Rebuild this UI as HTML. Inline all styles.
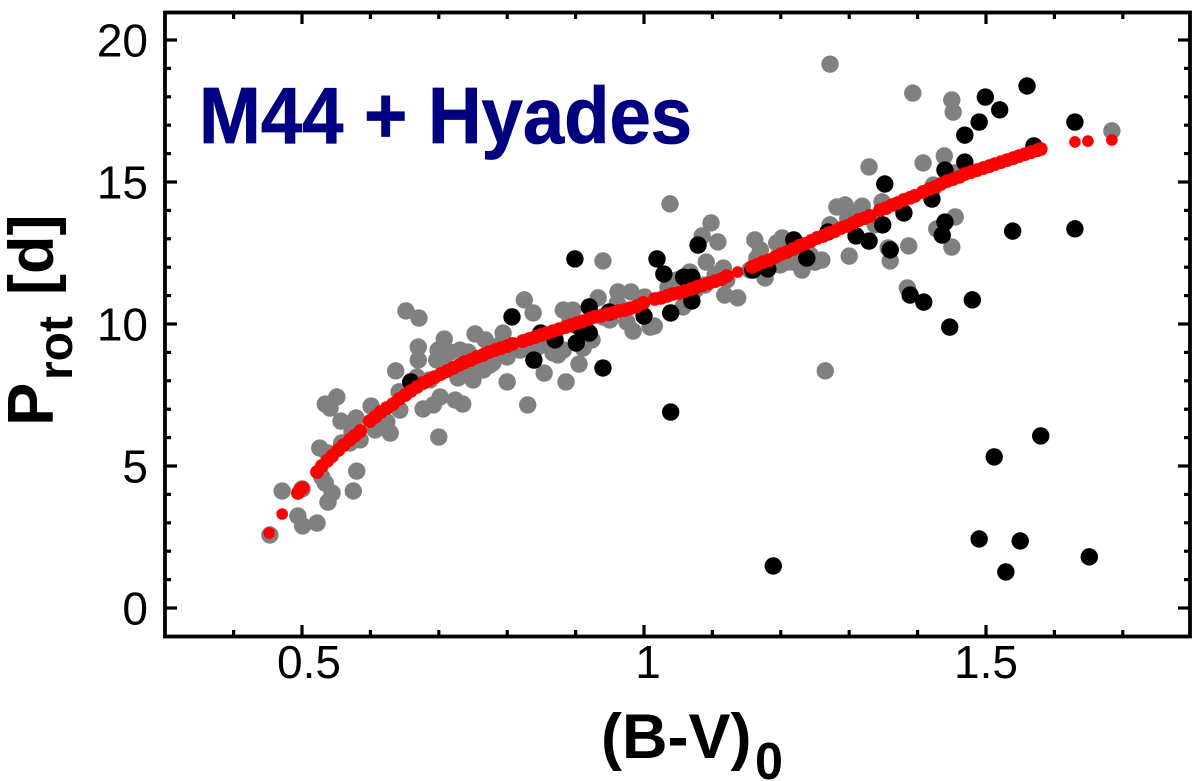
<!DOCTYPE html>
<html lang="en">
<head>
<meta charset="utf-8">
<title>M44 + Hyades rotation periods</title>
<style>
html,body{margin:0;padding:0;background:#fff;width:1200px;height:781px;overflow:hidden}
svg{display:block}
text{font-family:"Liberation Sans",Arial,Helvetica,sans-serif;fill:#000}
</style>
</head>
<body>
<svg id="chart" xmlns="http://www.w3.org/2000/svg" width="1200" height="781" viewBox="0 0 1200 781">
  <rect x="0" y="0" width="1200" height="781" fill="#fff"/>
  <g id="gray-series" fill="#808080"></g>
  <g id="black-series" fill="#000"></g>
  <g id="red-series" fill="#ff0000"></g>
  <g id="ticks" stroke="#000" stroke-width="3.2"></g>
  <rect x="165" y="12.5" width="1025" height="624" fill="none" stroke="#000" stroke-width="3.8"/>
  <g id="labels" font-size="46"></g>
  <text x="199" y="143" font-size="80" font-weight="bold" textLength="493" lengthAdjust="spacingAndGlyphs" stroke="#000080" stroke-width="0.8" style="fill:#000080">M44 + Hyades</text>
  <g font-weight="bold">
    <text x="601" y="758" font-size="63">(B-V)</text>
    <text x="755" y="779" font-size="52" textLength="28" lengthAdjust="spacingAndGlyphs">0</text>
  </g>
  <g font-weight="bold">
    <text transform="translate(53,0) rotate(-90)" x="-426" y="0" font-size="65">P</text>
    <text transform="translate(72,0) rotate(-90)" x="-380" y="0" font-size="48">rot</text>
    <text transform="translate(53,0) rotate(-90)" x="-295" y="0" font-size="63">[d]</text>
  </g>
</svg>
<script>
const xTickLabels = ["0.5", "1", "1.5"];
const xTickValues = [0.5, 1, 1.5];
const yTickLabels = ["0", "5", "10", "15", "20"];
const yTickValues = [0, 5, 10, 15, 20];
const xMinorValues = [0.4, 0.6, 0.7, 0.8, 0.9, 1.1, 1.2, 1.3, 1.4, 1.6, 1.7];
const yMinorValues = [1, 2, 3, 4, 6, 7, 8, 9, 11, 12, 13, 14, 16, 17, 18, 19];

const grayStars = [
[.453,2.57],[.471,4.12],[.500,4.19],[.494,3.24],[.501,2.89],[.522,2.99],[.538,3.73],[.544,4.05],[.534,4.40],[.529,4.61],
[.575,4.12],[.580,4.82],[.526,5.63],[.537,5.46],[.558,5.81],[.534,7.18],[.551,7.43],[.541,7.04],[.557,6.58],[.579,6.69],
[.573,6.20],[.585,5.92],[.570,5.81],[.601,7.11],[.607,6.27],[.629,6.16],[.624,6.55],[.643,6.97],[.642,7.61],[.637,8.35],
[.652,10.46],[.671,10.21],[.670,9.19],[.670,8.73],[.700,6.02],[.677,7.01],[.692,7.15],[.702,7.43],[.724,7.32],[.735,7.18],
[.708,9.47],[.699,9.08],[.697,8.73],[.716,9.01],[.731,9.08],[.743,9.01],[.753,9.65],[.768,9.44],[.728,8.10],[.750,8.03],
[.765,8.38],[.794,9.68],[.800,7.96],[.668,8.13],[.687,8.03],[.712,8.49],[.741,8.38],[.760,8.73],[.779,8.63],[.800,8.84],
[.792,9.33],[.775,9.08],[.775,8.56],[.825,10.85],[.838,10.39],[.854,8.27],[.886,7.96],[.905,8.59],[.830,7.15],[.830,9.15],
[.845,9.19],[.867,8.98],[.882,10.49],[.896,10.49],[.892,10.14],[.911,9.15],[.924,9.44],[.933,10.92],[.962,11.13],[.981,11.13],
[1.001,10.95],[.975,10.07],[.984,9.75],[1.015,9.93],[.940,10.25],[.961,10.74],[.940,12.22],[1.038,14.23],[1.098,13.56],[1.085,13.10],
[1.108,12.89],[1.091,12.18],[1.116,11.97],[1.035,11.30],[1.048,11.55],[1.057,10.60],[1.121,11.55],[1.118,11.02],[1.137,10.92],[1.162,12.96],
[1.202,13.03],[1.194,12.85],[1.165,12.32],[1.177,11.62],[1.209,12.18],[1.231,11.90],[1.260,12.25],[1.250,12.18],[1.155,11.90],[1.282,14.12],
[1.294,14.19],[1.300,12.39],[1.265,8.35],[1.272,19.15],[1.329,15.53],[1.408,15.67],[1.439,15.92],[1.348,14.30],[1.319,14.15],[1.306,13.91],
[1.298,13.73],[1.387,12.75],[1.360,12.22],[1.357,12.68],[1.455,13.77],[1.428,13.35],[1.450,12.71],[1.385,11.27],[1.423,14.89],[1.455,15.32],
[1.393,18.13],[1.450,17.89],[1.452,17.46],[1.684,16.80],[1.424,14.82],[1.218,12.18],[.874,8.91],[.882,9.08],[1.009,9.89],[.994,10.67],
[.972,10.49],[.950,10.14],[.899,9.96],[.855,9.44],[.819,9.08],[1.075,11.20],[1.089,11.37],[1.104,11.73],[1.067,11.83],[1.199,12.08],
[1.170,12.61],[1.243,12.43],[1.272,13.49],[1.221,12.61],[1.338,13.49]
];

const blackStars = [
[.659,7.96],[.807,10.25],[.839,8.73],[.849,9.68],[.870,9.44],[.920,10.60],[.901,9.33],[.920,9.68],[.906,9.89],[.940,8.45],
[.949,10.42],[1.000,10.28],[.899,12.29],[1.019,12.29],[1.029,11.76],[1.039,10.39],[1.039,6.90],[1.079,12.78],[1.058,11.65],[1.070,11.65],
[1.070,10.81],[1.159,11.90],[1.181,11.94],[1.189,1.48],[1.219,12.96],[1.238,12.32],[1.269,13.24],[1.310,13.10],[1.329,12.92],[1.352,14.93],
[1.349,13.49],[1.360,12.61],[1.380,13.91],[1.389,11.02],[1.409,10.77],[1.421,14.40],[1.440,15.42],[1.469,15.70],[1.440,13.59],[1.436,13.13],
[1.447,9.89],[1.480,10.85],[1.469,16.65],[1.490,17.11],[1.499,17.99],[1.520,17.54],[1.560,18.38],[1.570,16.27],[1.630,17.11],[1.539,13.27],
[1.630,13.35],[1.512,5.32],[1.580,6.06],[1.490,2.43],[1.550,2.36],[1.529,1.27],[1.651,1.80]
];

const redSingles = [
[.452,2.64],[.471,3.31],[1.137,11.83],[1.630,16.41],[1.649,16.44],[1.684,16.48]
];

const redCurve = [
[.494,4.05],[.497,4.15],[.501,4.23],
[.522,4.79],[.529,5.00],[.537,5.18],[.544,5.35],[.553,5.56],[.561,5.74],[.570,5.92],[.577,6.06],[.585,6.23],
[.599,6.58],[.607,6.73],[.615,6.90],[.624,7.04],[.633,7.18],[.642,7.36],[.651,7.50],[.659,7.64],[.668,7.78],[.677,7.92],
[.686,8.03],[.694,8.13],[.703,8.24],[.712,8.34],[.721,8.45],[.730,8.56],[.738,8.66],[.747,8.73],[.756,8.84],[.765,8.91],
[.773,9.01],[.782,9.08],[.791,9.15],[.800,9.22],[.808,9.30],
[.823,9.40],[.832,9.47],[.841,9.54],[.849,9.61],[.858,9.68],[.867,9.75],[.876,9.82],[.885,9.89],[.893,9.96],[.902,10.03],
[.911,10.10],[.920,10.18],[.928,10.25],[.937,10.28],[.946,10.35],[.955,10.39],[.963,10.46],[.972,10.49],[.981,10.56],[.990,10.63],[.999,10.74],
[1.016,10.88],[1.025,10.92],[1.034,10.99],[1.042,11.06],[1.051,11.09],[1.060,11.16],[1.069,11.23],[1.077,11.30],[1.086,11.37],[1.095,11.44],
[1.104,11.51],[1.113,11.58],[1.121,11.69],
[1.158,12.01],[1.165,12.08],[1.174,12.18],[1.183,12.25],[1.192,12.36],[1.200,12.46],[1.209,12.53],[1.218,12.64],[1.227,12.75],[1.235,12.82],
[1.244,12.92],[1.253,13.03],[1.262,13.10],[1.270,13.20],[1.279,13.27],[1.288,13.38],[1.297,13.45],[1.306,13.56],[1.314,13.66],[1.323,13.73],[1.330,13.80],
[1.345,14.01],[1.354,14.08],[1.363,14.19],[1.371,14.26],[1.380,14.37],[1.389,14.44],[1.396,14.51],
[1.408,14.65],[1.417,14.75],[1.425,14.82],[1.434,14.93],[1.443,15.03],[1.452,15.10],[1.461,15.18],[1.469,15.28],[1.478,15.35],[1.487,15.42],
[1.496,15.49],[1.505,15.56],[1.513,15.63],[1.522,15.70],[1.531,15.77],[1.540,15.84],[1.548,15.91],[1.557,15.98],[1.566,16.05],[1.575,16.12],[1.580,16.16]
];

const SVG_NS = "http://www.w3.org/2000/svg";
function xScale(v){ return 302 + (v - 0.5) * 684; }
function yScale(v){ return 608 - v * 28.4; }

function addDots(groupId, points, radius, name){
  const g = document.getElementById(groupId);
  points.forEach(function(p){
    const c = document.createElementNS(SVG_NS, "circle");
    c.setAttribute("cx", xScale(p[0]).toFixed(2));
    c.setAttribute("cy", yScale(p[1]).toFixed(2));
    c.setAttribute("r", radius);
    
    
    g.appendChild(c);
  });
}
addDots("gray-series", grayStars, 8.7, "gray-star-point");
addDots("black-series", blackStars, 8.7, "black-star-point");
addDots("red-series", redSingles, 5.8, "red-model-point");
addDots("red-series", redCurve, 6.9, "red-model-point");

const tickGroup = document.getElementById("ticks");
function addTick(x1, y1, x2, y2, name){
  const l = document.createElementNS(SVG_NS, "line");
  l.setAttribute("x1", x1);
  l.setAttribute("y1", y1);
  l.setAttribute("x2", x2);
  l.setAttribute("y2", y2);
  
  
  tickGroup.appendChild(l);
}
xTickValues.forEach(function(v){
  const x = xScale(v);
  addTick(x, 636, x, 625, "x-major-tick");
  addTick(x, 13, x, 24, "x-major-tick-top");
});
xMinorValues.forEach(function(v){
  const x = xScale(v);
  addTick(x, 636, x, 630, "x-minor-tick");
  addTick(x, 13, x, 19, "x-minor-tick-top");
});
yTickValues.forEach(function(v){
  const y = yScale(v);
  addTick(165, y, 177, y, "y-major-tick");
  addTick(1190, y, 1178, y, "y-major-tick-right");
});
yMinorValues.forEach(function(v){
  const y = yScale(v);
  addTick(165, y, 171, y, "y-minor-tick");
  addTick(1190, y, 1184, y, "y-minor-tick-right");
});

const labelGroup = document.getElementById("labels");
xTickLabels.forEach(function(t, i){
  const el = document.createElementNS(SVG_NS, "text");
  el.setAttribute("x", xScale(xTickValues[i]) + (i === 2 ? 0 : (i === 1 ? 4 : 7)));
  el.setAttribute("y", 678);
  el.setAttribute("text-anchor", "middle");
  el.textContent = t;
  
  
  labelGroup.appendChild(el);
});
yTickLabels.forEach(function(t, i){
  const el = document.createElementNS(SVG_NS, "text");
  el.setAttribute("x", 148);
  el.setAttribute("y", yScale(yTickValues[i]) + 16.5);
  el.setAttribute("text-anchor", "end");
  el.textContent = t;
  
  
  labelGroup.appendChild(el);
});
</script>
</body>
</html>
